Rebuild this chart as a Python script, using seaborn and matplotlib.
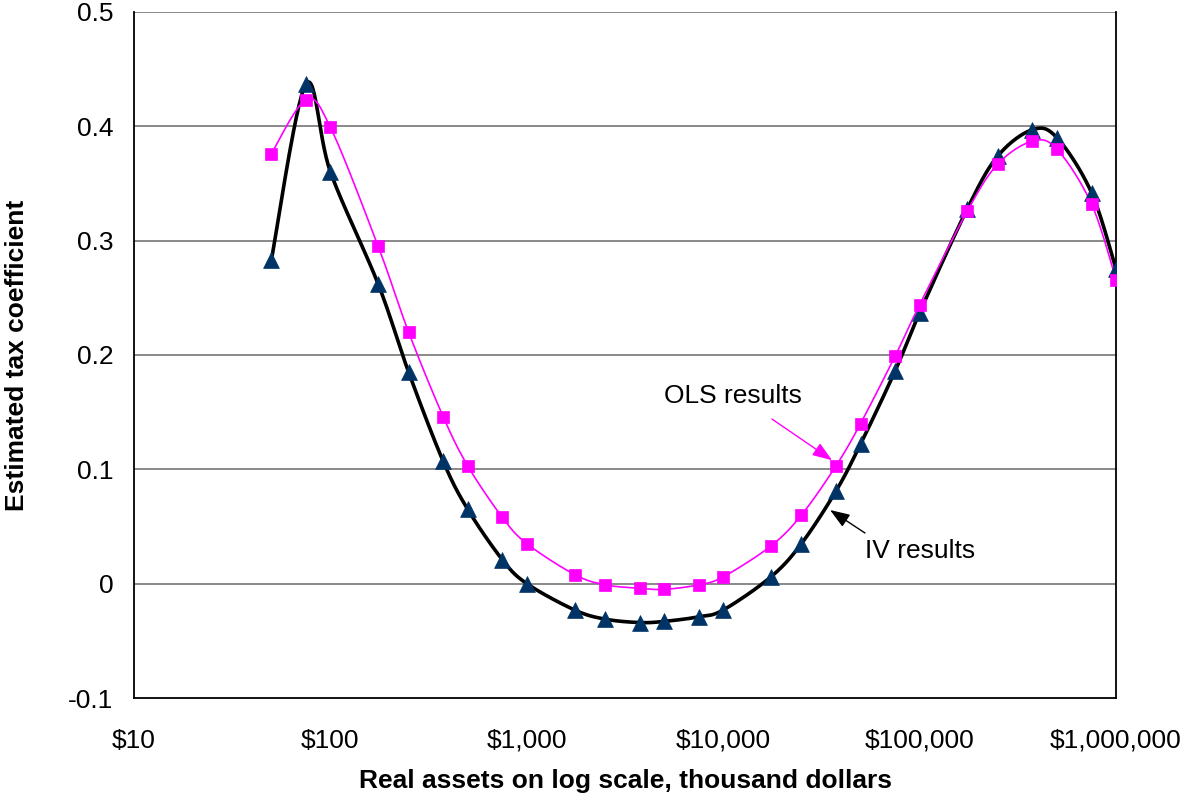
import numpy as np
import pandas as pd
import matplotlib
matplotlib.use("Agg")
import matplotlib.pyplot as plt
import matplotlib.ticker as mticker
import seaborn as sns

# Real assets, thousand dollars
assets = [50, 75, 100, 175, 250, 375, 500, 750, 1000, 1750, 2500, 3750, 5000,
          7500, 10000, 17500, 25000, 37500, 50000, 75000, 100000, 175000,
          250000, 375000, 500000, 750000, 1000000]

ols_coef = [0.376, 0.423, 0.399, 0.295, 0.220, 0.146, 0.103, 0.058, 0.035,
            0.008, -0.001, -0.004, -0.005, -0.001, 0.006, 0.033, 0.060, 0.103,
            0.140, 0.199, 0.244, 0.326, 0.367, 0.387, 0.380, 0.332, 0.266]

iv_coef = [0.283, 0.437, 0.360, 0.262, 0.185, 0.107, 0.065, 0.021, 0.000,
           -0.023, -0.031, -0.034, -0.033, -0.029, -0.023, 0.006, 0.035, 0.081,
           0.122, 0.186, 0.237, 0.328, 0.374, 0.397, 0.390, 0.342, 0.275]

x_ticks = [10, 100, 1000, 10000, 100000, 1000000]
y_ticks = [-0.1, 0, 0.1, 0.2, 0.3, 0.4, 0.5]
y_tick_labels = ["-0.1", "0", "0.1", "0.2", "0.3", "0.4", "0.5"]


def smooth_curve(xs, ys, n=30):
    """Cubic Bezier smoothing through the points (log-x space)."""
    lx = np.log10(np.asarray(xs, float))
    y = np.asarray(ys, float)
    pts = np.column_stack([lx, y])
    out = []
    m = len(pts)
    t = np.linspace(0, 1, n)[:, None]
    for i in range(m - 1):
        p0 = pts[i - 1] if i > 0 else pts[i]
        p1 = pts[i]
        p2 = pts[i + 1]
        p3 = pts[i + 2] if i + 2 < m else pts[i + 1]
        c1 = p1 + (p2 - p0) / 6.0
        c2 = p2 - (p3 - p1) / 6.0
        seg = ((1 - t) ** 3) * p1 + 3 * ((1 - t) ** 2) * t * c1 \
            + 3 * (1 - t) * t ** 2 * c2 + t ** 3 * p2
        out.append(seg if i == 0 else seg[1:])
    curve = np.vstack(out)
    return pd.DataFrame({"x": 10 ** curve[:, 0], "y": curve[:, 1]})


sns.set_style("white")
plt.rcParams["font.family"] = ["Liberation Sans", "DejaVu Sans"]
plt.rcParams.update({"text.color": "black", "axes.labelcolor": "black",
                     "xtick.color": "black", "ytick.color": "black"})

FS = 19

fig = plt.figure(figsize=(11.8, 7.96), dpi=100)
ax = fig.add_axes([0.1136, 0.1231, 0.8322, 0.8619])

ax.set_xscale("log")
ax.set_xlim(10, 1000000)
ax.set_ylim(-0.1, 0.5)

for v in y_ticks[1:]:
    ax.axhline(v, color="#808080", lw=1.3, zorder=1)

iv_curve = smooth_curve(assets, iv_coef)
ols_curve = smooth_curve(assets, ols_coef)

sns.lineplot(data=iv_curve, x="x", y="y", sort=False, estimator=None,
             color="black", lw=2.6, ax=ax, zorder=3)
sns.lineplot(data=ols_curve, x="x", y="y", sort=False, estimator=None,
             color="#FF00FF", lw=1.2, ax=ax, zorder=4)

pts = pd.DataFrame({"assets": assets, "ols": ols_coef, "iv": iv_coef})
sns.scatterplot(data=pts, x="assets", y="iv", marker="^", s=130,
                color="#003366", edgecolor="#003366", linewidth=0.5,
                ax=ax, zorder=5)
sns.scatterplot(data=pts, x="assets", y="ols", marker="s", s=85,
                color="#FF00FF", edgecolor="#FF00FF", linewidth=0.5,
                ax=ax, zorder=6)

# Callouts
head = "-|>,head_length=0.6,head_width=0.22"
ax.text(11200, 0.164, "OLS results", fontsize=FS, ha="center", va="center",
        zorder=7)
ax.annotate("", xy=(35800, 0.108), xytext=(17700, 0.144),
            arrowprops=dict(arrowstyle=head, color="#FF00FF", lw=1.0,
                            mutation_scale=20, shrinkA=0, shrinkB=0),
            zorder=7)
ax.text(100500, 0.029, "IV results", fontsize=FS, ha="center", va="center",
        zorder=7)
ax.annotate("", xy=(35000, 0.0644), xytext=(52700, 0.0443),
            arrowprops=dict(arrowstyle=head, color="black", lw=1.0,
                            mutation_scale=20, shrinkA=0, shrinkB=0),
            zorder=7)

ax.set_xticks(x_ticks)
ax.xaxis.set_major_formatter(mticker.FuncFormatter(lambda v, p: f"${v:,.0f}"))
ax.xaxis.set_minor_locator(mticker.NullLocator())
ax.set_yticks(y_ticks)
ax.set_yticklabels(y_tick_labels)

ax.tick_params(axis="both", which="major", direction="out", length=6,
               width=1, color="black", labelsize=FS, pad=9)
ax.tick_params(axis="x", pad=16)

for side in ["left", "right", "bottom"]:
    ax.spines[side].set_color("black")
    ax.spines[side].set_linewidth(1.3)
ax.spines["top"].set_visible(False)

ax.set_xlabel("Real assets on log scale, thousand dollars", fontsize=FS,
              fontweight="bold", labelpad=12)
ax.set_ylabel("Estimated tax coefficient", fontsize=FS,
              fontweight="bold", labelpad=28)

fig.savefig("out.png", dpi=100, facecolor="white")
